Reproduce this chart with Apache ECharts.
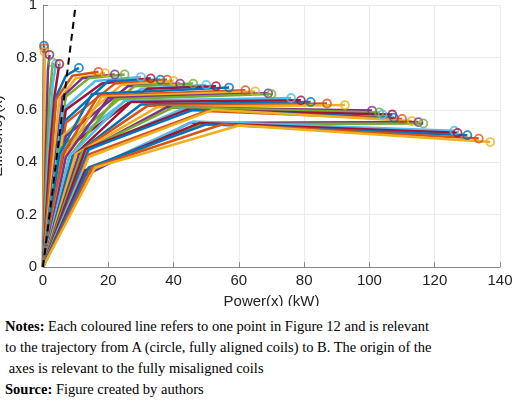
<!DOCTYPE html>
<html>
<head>
<meta charset="utf-8">
<script src="https://cdn.jsdelivr.net/npm/echarts@6/dist/echarts.min.js"></script>
<style>
  body { margin: 0; background: #fff; width: 520px; height: 417px; overflow: hidden; }
  #main { width: 520px; height: 306px; }
  #notes { font-family: "Liberation Serif", serif; font-size: 14.5px; line-height: 21px; padding-left: 5px; margin-top: 10px; color: #000; }
</style>
</head>
<body>
<div id="main"></div>
<div id="notes"><b>Notes:</b> Each coloured line refers to one point in Figure 12 and is relevant<br>to the trajectory from A (circle, fully aligned coils) to B. The origin of the<br>&nbsp;axes is relevant to the fully misaligned coils<br><b>Source:</b> Figure created by authors</div>
<script>
// 每条轨迹: 原点 -> 低拐点 -> 中拐点 -> 终点(圆圈)
var endX = [0.3, 0.4, 0.5, 2, 3, 4, 5, 11, 17, 19, 22, 25, 30, 33, 36, 38, 40, 42, 46, 50, 53, 57, 62, 65, 69, 70, 76, 79, 82, 87, 92.5, 100.8, 103, 104, 107, 107.5, 110, 113, 115, 116.5, 126, 127, 130, 133.5, 137];
var endY = [0.845, 0.835, 0.82, 0.81, 0.78, 0.775, 0.775, 0.76, 0.745, 0.74, 0.735, 0.735, 0.725, 0.72, 0.715, 0.715, 0.71, 0.70, 0.70, 0.695, 0.69, 0.685, 0.675, 0.67, 0.663, 0.66, 0.645, 0.636, 0.63, 0.624, 0.618, 0.597, 0.59, 0.582, 0.582, 0.57, 0.565, 0.557, 0.553, 0.548, 0.52, 0.512, 0.503, 0.49, 0.477];
var midX = [0.2, 0.3, 0.4, 1.5, 2, 3, 3.5, 7, 9, 10, 12, 14, 16, 18, 20, 22, 24, 26, 28, 30, 32, 15, 17, 18, 20, 22, 25, 27, 30, 32, 35, 38, 40, 42, 44, 46, 50, 52, 45, 48, 46, 48, 50, 55, 60];
var midY = [0.7, 0.65, 0.6, 0.75, 0.65, 0.7, 0.65, 0.73, 0.73, 0.72, 0.72, 0.72, 0.71, 0.70, 0.71, 0.70, 0.695, 0.69, 0.69, 0.68, 0.68, 0.66, 0.655, 0.65, 0.645, 0.64, 0.635, 0.63, 0.62, 0.615, 0.61, 0.61, 0.61, 0.60, 0.60, 0.60, 0.595, 0.60, 0.55, 0.545, 0.555, 0.55, 0.545, 0.545, 0.54];
var lowX = [0.1, 0.1, 0.2, 0.8, 1, 1.5, 2, 4, 4, 5, 6, 7, 6, 7, 6, 7, 6, 7, 5, 6, 7, 5, 6, 7, 7, 8, 8, 9, 9, 10, 10, 11, 12, 13, 13, 14, 14, 14, 13, 13, 12, 13, 14, 15, 16];
var lowY = [0.3, 0.3, 0.3, 0.4, 0.35, 0.4, 0.42, 0.65, 0.64, 0.64, 0.65, 0.65, 0.6, 0.6, 0.55, 0.55, 0.5, 0.5, 0.45, 0.45, 0.45, 0.43, 0.43, 0.43, 0.42, 0.42, 0.42, 0.42, 0.42, 0.43, 0.43, 0.43, 0.44, 0.44, 0.45, 0.45, 0.43, 0.42, 0.35, 0.36, 0.36, 0.37, 0.38, 0.38, 0.38];
var dashX = [0, 10];
var dashY = [0, 1];
var xTicks = [0, 20, 40, 60, 80, 100, 120, 140];
var yTicks = [0, 0.2, 0.4, 0.6, 0.8, 1];

var colors = ['#0072BD', '#D95319', '#EDB120', '#7E2F8E', '#77AC30', '#4DBEEE', '#A2142F'];

var series = [];
var circles = [];
for (var i = 0; i < endX.length; i++) {
    var c = colors[i % colors.length];
    series.push({
        type: 'line', symbol: 'none', silent: true,
        lineStyle: { color: c, width: 2.5 },
        data: [[0, 0], [lowX[i], lowY[i]], [midX[i], midY[i]], [endX[i], endY[i]]]
    });
    circles.push({ value: [endX[i], endY[i]], itemStyle: { borderColor: c } });
}
series.push({
    type: 'scatter', symbol: 'circle', symbolSize: 8, silent: true,
    itemStyle: { color: 'rgba(0,0,0,0)', borderWidth: 1.8 },
    data: circles, z: 5
});
series.push({
    type: 'line', symbol: 'none', silent: true, z: 6,
    lineStyle: { color: '#000', width: 2, type: [7, 5] },
    data: dashX.map(function (x, k) { return [x, dashY[k]]; })
});

var axisText = { fontFamily: 'Liberation Sans', fontSize: 15, color: '#222' };
var myChart = echarts.init(document.getElementById('main'));
myChart.setOption({
    animation: false,
    grid: { left: 43, right: 20, top: 5, bottom: 39, containLabel: false, outerBoundsMode: 'none' },
    xAxis: {
        type: 'value', min: 0, max: 140, interval: 20,
        name: 'Power(x) (kW)', nameLocation: 'middle', nameGap: 27,
        nameTextStyle: axisText,
        axisLine: { lineStyle: { color: '#888' } },
        axisTick: { show: true, inside: true, lineStyle: { color: '#888' } },
        axisLabel: Object.assign({ margin: 6, formatter: function (v) { return xTicks.indexOf(v) >= 0 ? v : ''; } }, axisText),
        splitLine: { lineStyle: { color: '#ebebeb' } }
    },
    yAxis: {
        type: 'value', min: 0, max: 1, interval: 0.2,
        name: 'Efficiency(x)', nameLocation: 'middle', nameGap: 30,
        nameTextStyle: axisText,
        axisLine: { show: true, lineStyle: { color: '#888' } },
        axisTick: { show: true, inside: true, lineStyle: { color: '#888' } },
        axisLabel: Object.assign({ margin: 6, formatter: function (v) {
            var t = yTicks.filter(function (y) { return Math.abs(y - v) < 1e-6; });
            return t.length ? String(+v.toFixed(1)) : '';
        } }, axisText),
        splitLine: { lineStyle: { color: '#ebebeb' } }
    },
    series: series
});
</script>
</body>
</html>
